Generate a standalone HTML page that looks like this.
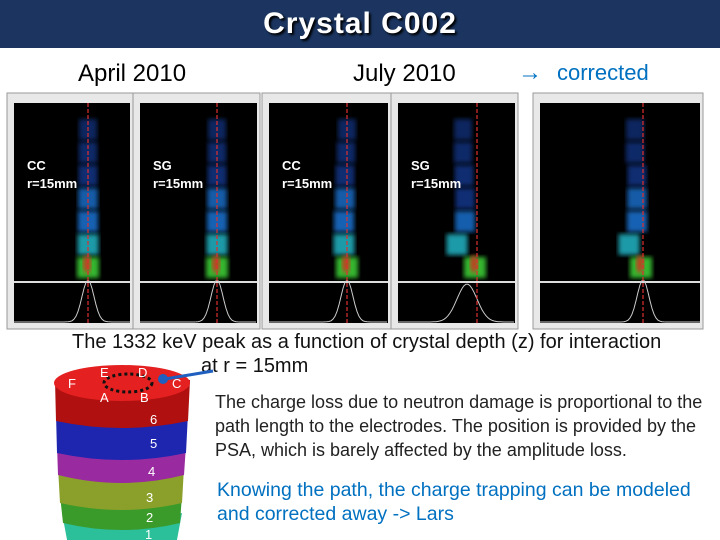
<!DOCTYPE html>
<html><head><meta charset="utf-8"><style>
body{margin:0;width:720px;height:540px;overflow:hidden;background:#fff;font-family:"Liberation Sans",sans-serif;position:relative}
.abs{position:absolute;white-space:nowrap}
</style></head><body>
<div class="abs" style="left:0;top:0;width:720px;height:48px;background:#1b3560"></div>
<div class="abs" style="left:0;width:720px;top:7px;text-align:center;color:#fff;font-size:30px;font-weight:bold;letter-spacing:1px;text-shadow:2px 2px 2px #000">Crystal C002</div>
<div class="abs" style="left:78px;top:60px;font-size:24px">April 2010</div>
<div class="abs" style="left:353px;top:60px;font-size:24px">July 2010</div>
<div class="abs" style="left:518px;top:59px;font-size:24px;font-weight:bold;color:#0070c0">→</div>
<div class="abs" style="left:557px;top:60px;font-size:22px;color:#0070c0">corrected</div>
<svg class="abs" id="panels" style="left:0;top:0" width="720" height="340"></svg>
<div class="abs" style="left:72px;top:331px;font-size:20px;color:#111">The 1332 keV peak as a function of crystal depth (z) for interaction</div>
<div class="abs" style="left:201px;top:355px;font-size:20px;color:#111">at r = 15mm</div>
<svg class="abs" id="crystal" style="left:0;top:355px" width="220" height="185">
<path d="M62,158 L68,190 L176,190 L182,158 Q122,172 62,158Z" fill="#2bbf9a"/>
<path d="M60,140 L63,168 Q122,182 180,168 L182,140 Q122,155 60,140Z" fill="#3a9a2a"/>
<path d="M58,112 L60,148 Q122,162 182,148 L184,112 Q122,128 58,112Z" fill="#8aa02a"/>
<path d="M57,90 L58,120 Q122,136 184,120 L186,90 Q122,105 57,90Z" fill="#9a2aa0"/>
<path d="M56,58 L57,98 Q122,112 186,98 L188,58 Q122,72 56,58Z" fill="#1e26b0"/>
<path d="M55,25 L56,66 Q122,80 188,66 L190,25Z" fill="#b01010"/>
<ellipse cx="122" cy="28" rx="68" ry="18" fill="#e52020"/>
<ellipse cx="128" cy="28" rx="24" ry="9" fill="none" stroke="#111" stroke-width="3" stroke-dasharray="3,3"/>
<g fill="#fff" font-size="13" font-family="Liberation Sans">
<text x="68" y="33">F</text><text x="100" y="22">E</text><text x="138" y="22">D</text><text x="172" y="33">C</text><text x="100" y="47">A</text><text x="140" y="47">B</text>
<text x="150" y="69">6</text><text x="150" y="93">5</text><text x="148" y="121">4</text><text x="146" y="147">3</text><text x="146" y="167">2</text><text x="145" y="184">1</text></g>
<line x1="213" y1="16" x2="165" y2="24" stroke="#1f5fbf" stroke-width="3"/><circle cx="163" cy="24" r="5" fill="#1f5fbf"/>
</svg>
<div class="abs" style="left:215px;top:390px;font-size:18px;line-height:24px;color:#222">The charge loss due to neutron damage is proportional to the<br>path length to the electrodes. The position is provided by the<br>PSA, which is barely affected by the amplitude loss.</div>
<div class="abs" style="left:217px;top:478px;font-size:19.5px;line-height:24px;color:#0070c0">Knowing the path, the charge trapping can be modeled<br>and corrected away -&gt; Lars</div>
<script>
const panelX=[7,133,262,391,533];
const panelW=[126,127,129,127,170];
const peakX=[88,217,347,477,643];
const labels=["CC","SG","CC","SG",""];
// intensity of each depth segment (top to bottom), 0..1
const segIntensity=[[0.3,0.4,0.5,0.6,0.7,0.85,1],[0.3,0.4,0.5,0.6,0.7,0.85,1],[0.3,0.4,0.5,0.6,0.7,0.85,1],[0.3,0.4,0.5,0.55,0.65,0.85,1],[0.3,0.4,0.5,0.6,0.7,0.85,1]];
// horizontal shift of each segment relative to peak (charge loss)
const segShift=[[0,0,0,0,0,0,0],[0,0,0,0,0,0,0],[0,-1,-2,-2,-3,-3,0],[-14,-14,-13,-12,-12,-20,-2],[-8,-8,-6,-6,-6,-14,-2]];
const ns="http://www.w3.org/2000/svg";
const svg=document.getElementById('panels');
svg.innerHTML='<defs><filter id="bl"><feGaussianBlur stdDeviation="2.5"/></filter></defs>';
function mk(t,a){const e=document.createElementNS(ns,t);for(const k in a)e.setAttribute(k,a[k]);svg.appendChild(e);return e;}
function col(v){if(v>0.9)return'#39c030';if(v>0.75)return'#20b0c0';if(v>0.55)return'#1a7ae0';return'#1840a0';}
panelX.forEach((x,i)=>{
 const w=panelW[i],top=93,bot=329;
 const fr=mk('rect',{x:x,y:top,width:w,height:bot-top,fill:'#e8e8e8',stroke:'#999'});
 
 
 const bx=x+7,by=103,bw=w-10,bh=220;
 mk('rect',{x:bx,y:by,width:bw,height:bh,fill:'#000'});
 const segH=23,start=118;
 segIntensity[i].forEach((v,j)=>{
  const cx=peakX[i]+segShift[i][j];
  const r=mk('rect',{x:cx-8-v*3,y:start+j*segH+1,width:16+v*6,height:segH-2,fill:col(v),opacity:0.45+v*0.5,filter:'url(#bl)'});
  
  
 });
 mk('ellipse',{cx:peakX[i]-1+segShift[i][6],cy:start+6*segH+8,rx:4,ry:9,fill:'#c04020',filter:'url(#bl)'});
 mk('line',{x1:bx,x2:bx+bw,y1:282,y2:282,stroke:'#ddd','stroke-width':2});
 let d='';const amp=i==3?38:42,sig=i==3?10:6,c=peakX[i]+(i==3?-10:0);
 for(let k=0;k<=bw;k+=2){const xx=bx+k;const y=322-amp*Math.exp(-((xx-c)**2)/(2*sig*sig));d+=(k?'L':'M')+xx+','+y.toFixed(1);}
 mk('path',{d:d,fill:'none',stroke:'#ccc','stroke-width':1});
 mk('line',{x1:peakX[i],x2:peakX[i],y1:by,y2:by+bh,stroke:'#e03030','stroke-dasharray':'4,2','stroke-width':1.2});
 if(labels[i]){const t=mk('text',{x:x+20,y:170,fill:'#fff','font-size':13,'font-weight':'bold','font-family':'Liberation Sans'});t.textContent=labels[i];
  const t2=mk('text',{x:x+20,y:188,fill:'#fff','font-size':13,'font-weight':'bold','font-family':'Liberation Sans'});t2.textContent='r=15mm';}
});
</script>
</body></html>
